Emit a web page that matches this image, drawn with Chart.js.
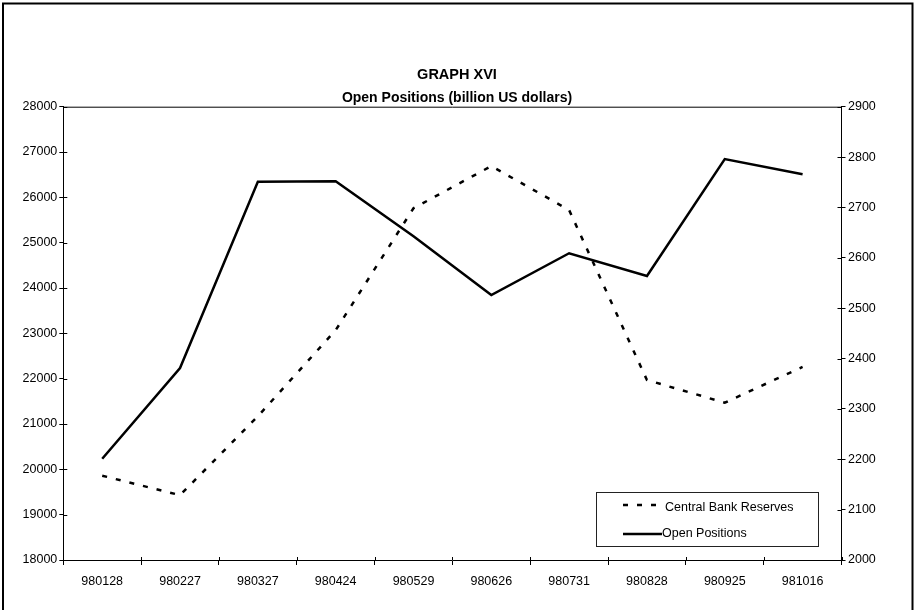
<!DOCTYPE html>
<html>
<head>
<meta charset="UTF-8">
<title>GRAPH XVI</title>
<script src="https://cdn.jsdelivr.net/npm/chart.js@4.4.0/dist/chart.umd.min.js"></script>
<style>
body { margin: 0; background: #fff; }
#wrap { position: relative; width: 914px; height: 610px; }
</style>
</head>
<body>
<div id="wrap"><canvas id="myChart" width="914" height="610"></canvas></div>
<script>
// 날짜 (x축)
var dates = ['980128', '980227', '980327', '980424', '980529', '980626', '980731', '980828', '980925', '981016'];
// 왼쪽 축 - 점선
var reserves = [19860, 19430, 21170, 23070, 25760, 26690, 25720, 21970, 21470, 22260];
// 오른쪽 축 - 실선
var openPositions = [2201, 2381, 2751, 2752, 2643, 2526, 2609, 2564, 2796, 2766];
// 눈금
var leftTicks = [18000, 19000, 20000, 21000, 22000, 23000, 24000, 25000, 26000, 27000, 28000];
var rightTicks = [2000, 2100, 2200, 2300, 2400, 2500, 2600, 2700, 2800, 2900];

Chart.defaults.font.family = 'Arial, "Liberation Sans", sans-serif';
Chart.defaults.font.size = 12.5;
Chart.defaults.color = '#000';

// 테두리, 안쪽 눈금, 범례
var boxPlugin = {
	id: 'boxPlugin',
	beforeDraw: function(chart) {
		var c = chart.ctx;
		c.save();
		c.fillStyle = '#fff';
		c.fillRect(0, 0, chart.width, chart.height);
		c.restore();
	},
	afterDraw: function(chart) {
		var c = chart.ctx, a = chart.chartArea;
		var x = chart.scales.x, y = chart.scales.y, y1 = chart.scales.y1;
		c.save();
		c.strokeStyle = '#000';
		c.lineWidth = 1;
		c.beginPath();
		c.moveTo(a.left, a.top + 0.5);
		c.lineTo(a.right, a.top + 0.5);
		y.ticks.forEach(function(t, i) {
			var py = Math.round(y.getPixelForTick(i)) + 0.5;
			c.moveTo(a.left, py); c.lineTo(a.left + 4, py);
		});
		y1.ticks.forEach(function(t, i) {
			var py = Math.round(y1.getPixelForTick(i)) + 0.5;
			c.moveTo(a.right - 4, py); c.lineTo(a.right, py);
		});
		for (var i = 0; i <= dates.length; i++) {
			var px = Math.round(x.getPixelForValue(i - 0.5)) + 0.5;
			c.moveTo(px, a.bottom - 3); c.lineTo(px, a.bottom);
		}
		c.stroke();

		// 범례
		c.strokeStyle = '#222';
		c.strokeRect(596.5, 492.5, 222, 54);
		var rows = [505, 534];
		chart.data.datasets.forEach(function(ds, i) {
			c.beginPath();
			c.strokeStyle = ds.borderColor;
			c.lineWidth = ds.borderWidth;
			c.setLineDash(ds.borderDash || []);
			c.moveTo(623, rows[i]);
			c.lineTo(ds.borderDash ? 656 : 662, rows[i]);
			c.stroke();
			c.setLineDash([]);
			c.fillStyle = '#000';
			c.font = '12.5px Arial, "Liberation Sans", sans-serif';
			c.textBaseline = 'middle';
			c.fillText(ds.label, ds.borderDash ? 665 : 662, rows[i] + (ds.borderDash ? 3 : 0));
		});

		// 바깥 테두리
		c.strokeStyle = '#000';
		c.lineWidth = 2;
		c.strokeRect(3, 3.5, 909.5, 620);
		c.restore();
	}
};

var ctx = document.getElementById('myChart').getContext('2d');
var chart = new Chart(ctx, {
	type: 'line',
	data: {
		labels: dates,
		datasets: [{
			label: 'Central Bank Reserves',
			data: reserves,
			yAxisID: 'y',
			borderColor: '#000',
			borderWidth: 2.5,
			borderDash: [5, 9],
			pointRadius: 0,
			tension: 0,
			fill: false
		}, {
			label: 'Open Positions',
			data: openPositions,
			yAxisID: 'y1',
			borderColor: '#000',
			borderWidth: 2.5,
			pointRadius: 0,
			tension: 0,
			fill: false
		}]
	},
	options: {
		responsive: false,
		animation: false,
		layout: { padding: 0 },
		plugins: {
			legend: { display: false },
			tooltip: { enabled: false },
			title: {
				display: true,
				text: 'GRAPH XVI',
				font: { size: 14.5, weight: 'bold' },
				lineHeight: 1.2,
				padding: { top: 66.3, bottom: 5.9 }
			},
			subtitle: {
				display: true,
				text: 'Open Positions (billion US dollars)',
				color: '#000',
				font: { size: 14, weight: 'bold' },
				lineHeight: 1.2,
				padding: { top: 0, bottom: 0.3 }
			}
		},
		scales: {
			x: {
				offset: true,
				grid: { offset: true, drawOnChartArea: false, tickLength: 5, color: '#000' },
				border: { color: '#000', width: 1 },
				ticks: { padding: 9.5, maxRotation: 0, autoSkip: false },
				afterFit: function(s) { s.height = 50; }
			},
			y: {
				position: 'left',
				min: leftTicks[0],
				max: leftTicks[leftTicks.length - 1],
				grid: { drawOnChartArea: false, tickLength: 4, color: '#000' },
				border: { color: '#000', width: 1 },
				ticks: { stepSize: leftTicks[1] - leftTicks[0], padding: 2, callback: function(v) { return String(v); } },
				afterFit: function(s) { s.width = 63.3; }
			},
			y1: {
				position: 'right',
				min: rightTicks[0],
				max: rightTicks[rightTicks.length - 1],
				grid: { drawOnChartArea: false, tickLength: 4, color: '#000' },
				border: { color: '#000', width: 1 },
				ticks: { stepSize: rightTicks[1] - rightTicks[0], padding: 2.5, callback: function(v) { return String(v); } },
				afterFit: function(s) { s.width = 72.5; }
			}
		}
	},
	plugins: [boxPlugin]
});
</script>
</body>
</html>
